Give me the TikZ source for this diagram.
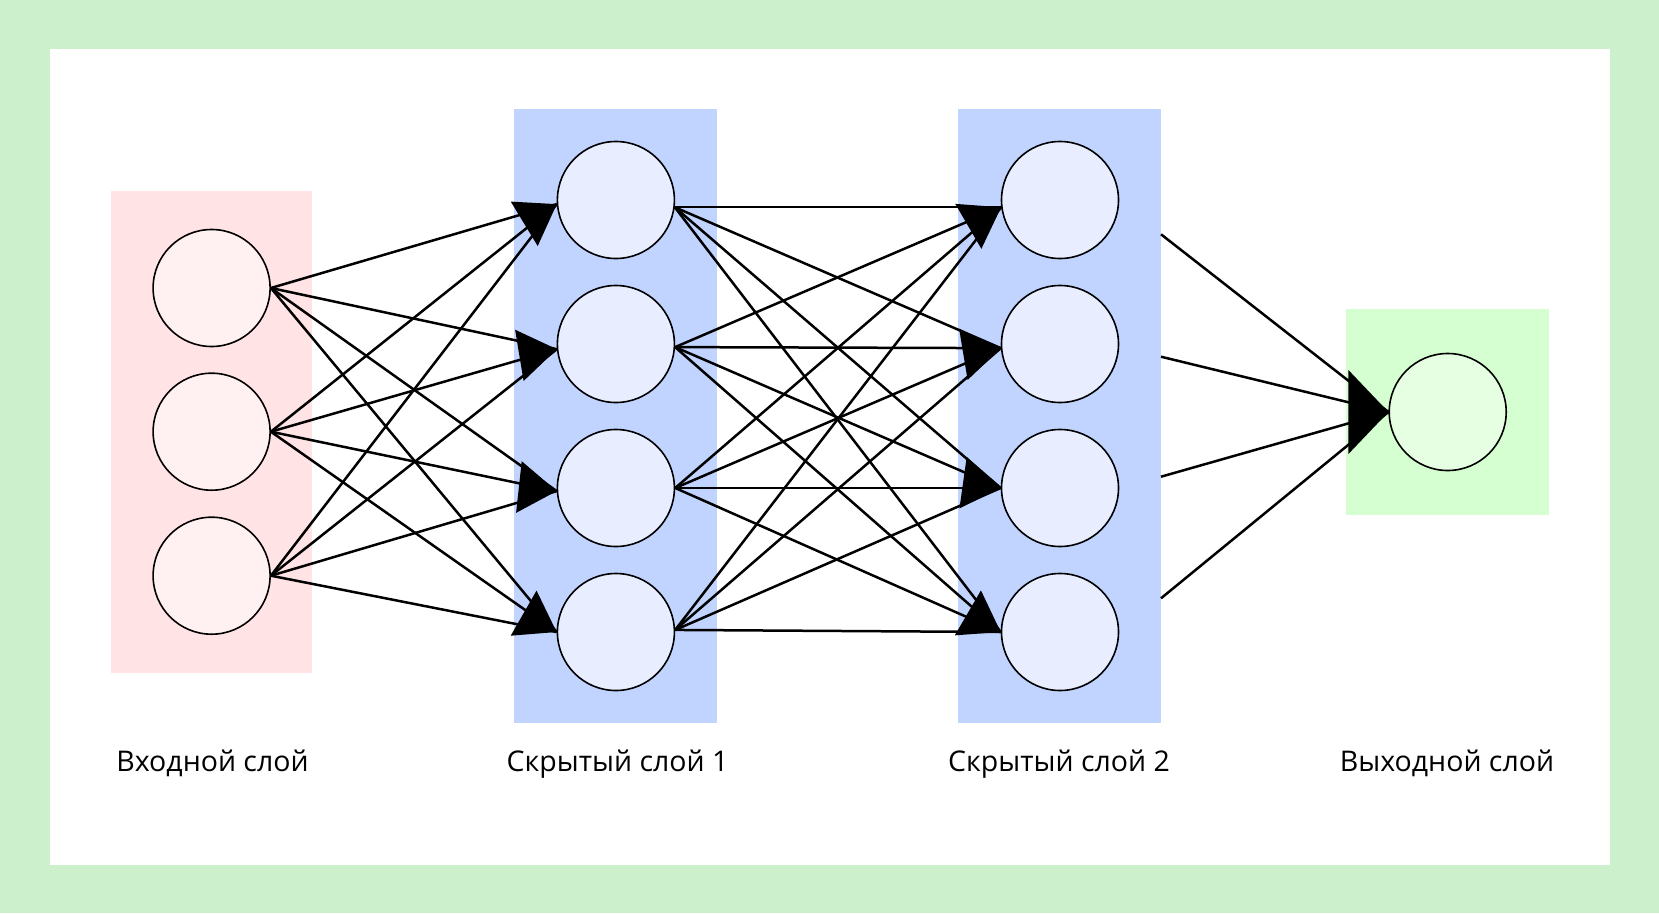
\documentclass[tikz,border=0pt]{standalone}
\usepackage{fontspec}
\setmainfont{Open Sans}
\usetikzlibrary{calc}
\definecolor{bggreen}{HTML}{CCF0CC}
\definecolor{inrect}{HTML}{FFE3E5}
\definecolor{infill}{HTML}{FFF1F1}
\definecolor{hidrect}{HTML}{C1D4FF}
\definecolor{hidfill}{HTML}{E8EEFF}
\definecolor{outrect}{HTML}{D5FFD0}
\definecolor{outfill}{HTML}{E6FFE3}
\newcommand\arrhead[2]{\fill[shift={(#1)}, rotate=#2] (0,0) -- (-38,26) -- (-38,-26) -- cycle;}
\begin{document}
\begin{tikzpicture}[x=1pt,y=-1pt,
  neuron/.style={circle, draw=black, line width=1.6pt, minimum size=117pt, inner sep=0pt},
  layer/.style={draw=none, inner sep=0pt},
  edge/.style={line width=2.5pt},
  lbl/.style={font=\fontsize{28.5}{32}\selectfont, anchor=base, inner sep=0pt}]
\fill[bggreen] (0,0) rectangle (1659,913);
\fill[white] (49.7,48.7) rectangle (1609.5,864.6);
\useasboundingbox (0,0) rectangle (1659,913);
% layer backgrounds
\node[layer, fill=inrect, minimum width=200.5pt, minimum height=481.5pt] (L0) at (211.25,431.75) {};
\node[layer, fill=hidrect, minimum width=203pt, minimum height=614pt] (L1) at (615.5,416) {};
\node[layer, fill=hidrect, minimum width=203pt, minimum height=614pt] (L2) at (1059.5,416) {};
\node[layer, fill=outrect, minimum width=203pt, minimum height=206pt] (L3) at (1447.5,412) {};
% neurons
\node[neuron, fill=infill] (i1) at (211.6,288) {};
\node[neuron, fill=infill] (i2) at (211.6,431.7) {};
\node[neuron, fill=infill] (i3) at (211.6,575.7) {};
\node[neuron, fill=hidfill] (h1a) at (615.9,200) {};
\node[neuron, fill=hidfill] (h1b) at (615.9,344) {};
\node[neuron, fill=hidfill] (h1c) at (615.9,488) {};
\node[neuron, fill=hidfill] (h1d) at (615.9,632) {};
\node[neuron, fill=hidfill] (h2a) at (1060,200) {};
\node[neuron, fill=hidfill] (h2b) at (1060,344) {};
\node[neuron, fill=hidfill] (h2c) at (1060,488) {};
\node[neuron, fill=hidfill] (h2d) at (1060,632) {};
\node[neuron, fill=outfill] (out) at (1447.7,412) {};
% input -> hidden 1
\foreach \s in {i1,i2,i3}
  \foreach \t/\a in {h1a/184, h1b/185, h1c/183, h1d/180}
    \draw[edge] (\s.east) -- (\t.\a);
% hidden 1 -> hidden 2
\foreach \s/\b in {h1a/-7, h1b/-3, h1c/0, h1d/2}
  \foreach \t/\a in {h2a/187, h2b/184, h2c/180, h2d/180}
    \draw[edge] (\s.\b) -- (\t.\a);
% hidden 2 -> output
\coordinate (o1) at (1161,234.3);
\coordinate (o2) at (1161,356.7);
\coordinate (o3) at (1161,476.7);
\coordinate (o4) at (1161,598.3);
\foreach \c in {o1,o2,o3,o4}
  \draw[edge] (\c) -- (out.west);
% arrowheads
\arrhead{h1a.184}{31.2}
\arrhead{h1b.185}{9.4}
\arrhead{h1c.183}{-6.2}
\arrhead{h1d.180}{-29.8}
\arrhead{h2a.187}{30.2}
\arrhead{h2b.184}{9.4}
\arrhead{h2c.180}{-8}
\arrhead{h2d.180}{-30.2}
\fill (out.west) -- ++(-40,-42) -- ++(0,84) -- cycle;
% labels
\node[lbl] (t0) at (212.5,771) {Входной слой};
\node[lbl] (t1) at (617.5,771) {Скрытый слой 1};
\node[lbl] (t2) at (1059,771) {Скрытый слой 2};
\node[lbl] (t3) at (1447,771) {Выходной слой};
\end{tikzpicture}
\end{document}
